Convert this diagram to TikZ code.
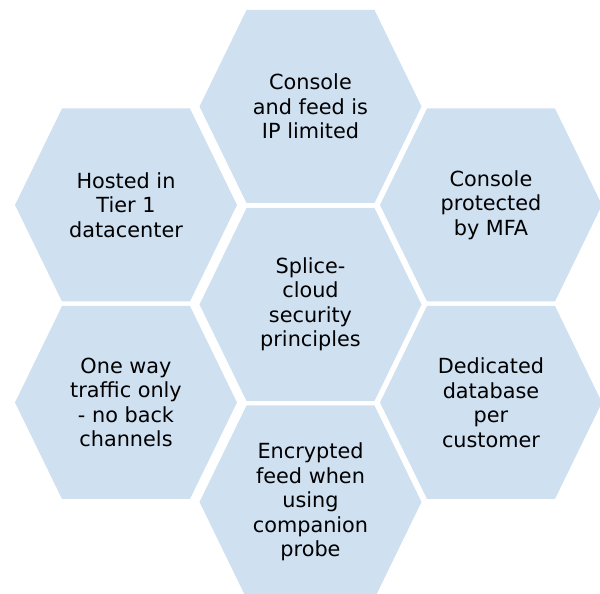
\documentclass[tikz,border=0pt]{standalone}
\usepackage{fontspec}
\setmainfont{DejaVu Sans}
\definecolor{cellblue}{RGB}{207,224,241}
\tikzset{
  cell/.style={fill=cellblue, draw=none},
  celltext/.style={align=center, text=black, inner sep=0pt,
    font=\fontsize{10.4pt}{12.25pt}\selectfont},
}
% one hexagon with its text at the centre
\newcommand\hexcell[3]{%
  \fill[cell, shift={(#1)}] (-111,0) -- (-64,96.5) -- (64,96.5) -- (111,0)
    -- (64,-96.5) -- (-64,-96.5) -- cycle;
  \node[celltext] (#2) at (#1) {#3};}
\begin{document}
\begin{tikzpicture}[x=0.5pt, y=0.5pt]
  \useasboundingbox (0,0) rectangle (600,594);
  \hexcell{310.5,487.5}{iplimit}{Console\\and feed is\\IP limited}
  \hexcell{126,389}{tier}{Hosted in\\Tier 1\\datacenter}
  \hexcell{491,389}{mfa}{Console\\protected\\by MFA}
  \hexcell{310.5,289.5}{principles}{Splice-\\cloud\\security\\principles}
  \hexcell{126,191.5}{oneway}{One way\\traffic only\\- no back\\channels}
  \hexcell{491,191.5}{database}{Dedicated\\database\\per\\customer}
  \hexcell{310.5,92}{encrypt}{Encrypted\\feed when\\using\\companion\\probe}
\end{tikzpicture}
\end{document}
